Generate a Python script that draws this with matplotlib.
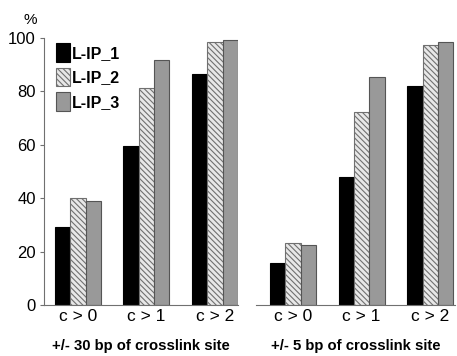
import matplotlib
matplotlib.use('Agg')
import matplotlib.pyplot as plt
import numpy as np

plt.rcParams['font.family'] = ['Liberation Sans', 'DejaVu Sans']
plt.rcParams['hatch.linewidth'] = 0.8

categories = ['c > 0', 'c > 1', 'c > 2']
series_names = ['L-IP_1', 'L-IP_2', 'L-IP_3']
panel_titles = ['+/- 30 bp of crosslink site', '+/- 5 bp of crosslink site']

# values (%)
win30_ip1 = [29.3, 59.7, 86.4]
win30_ip2 = [40.2, 81.4, 98.4]
win30_ip3 = [39.0, 91.9, 99.3]
win5_ip1 = [15.6, 47.8, 82.0]
win5_ip2 = [23.3, 72.3, 97.5]
win5_ip3 = [22.4, 85.3, 98.6]

yticks = [0, 20, 40, 60, 80, 100]

panels = [[win30_ip1, win30_ip2, win30_ip3], [win5_ip1, win5_ip2, win5_ip3]]

styles = [
    dict(color='black', edgecolor='black', hatch=None),
    dict(color='#e8e8e8', edgecolor='#707070', hatch='\\\\\\\\\\\\'),
    dict(color='#999999', edgecolor='#555555', hatch=None),
]

fig = plt.figure(figsize=(4.57, 3.56), dpi=100)
ax1 = fig.add_axes([44/457, 51/356, 194/457, 267/356])
ax2 = fig.add_axes([256/457, 51/356, 199/457, 267/356])

x = np.arange(len(categories))
w = 0.224
for ax, data, title in zip([ax1, ax2], panels, panel_titles):
    for i, (vals, st, name) in enumerate(zip(data, styles, series_names)):
        ax.bar(x + (i - 1) * w, vals, w, facecolor=st['color'],
               edgecolor=st['edgecolor'], hatch=st['hatch'], linewidth=0.8,
               label=name)
    ax.set_ylim(0, 100)
    ax.set_xticks(x)
    ax.set_xticklabels(categories, fontsize=12.5)
    ax.tick_params(axis='x', length=0, pad=3)
    ax.set_xlabel(title, fontsize=10.7, fontweight='bold', labelpad=11)
    for s in ['top', 'right']:
        ax.spines[s].set_visible(False)
    ax.spines['bottom'].set_color('#707070')
    ax.spines['left'].set_color('#707070')

ax1.set_xlim(-0.496, 2.336)
ax2.set_xlim(-0.54, 2.36)

ax1.set_yticks(yticks)
ax1.set_yticklabels([str(v) for v in yticks], fontsize=12)
ax1.tick_params(axis='y', length=3, color='#707070', pad=3)
ax2.spines['left'].set_visible(False)
ax2.set_yticks([])

fig.text(30/457, 1 - 20/356, '%', fontsize=11, ha='center', va='center')

ax1.legend(loc='upper left', bbox_to_anchor=(0.03, 1.005), frameon=False,
           prop=dict(size=11.5, weight='bold'), handlelength=0.85,
           handleheight=1.4, handletextpad=0.1, labelspacing=0.38,
           borderaxespad=0)

fig.savefig('out.png', dpi=100)
